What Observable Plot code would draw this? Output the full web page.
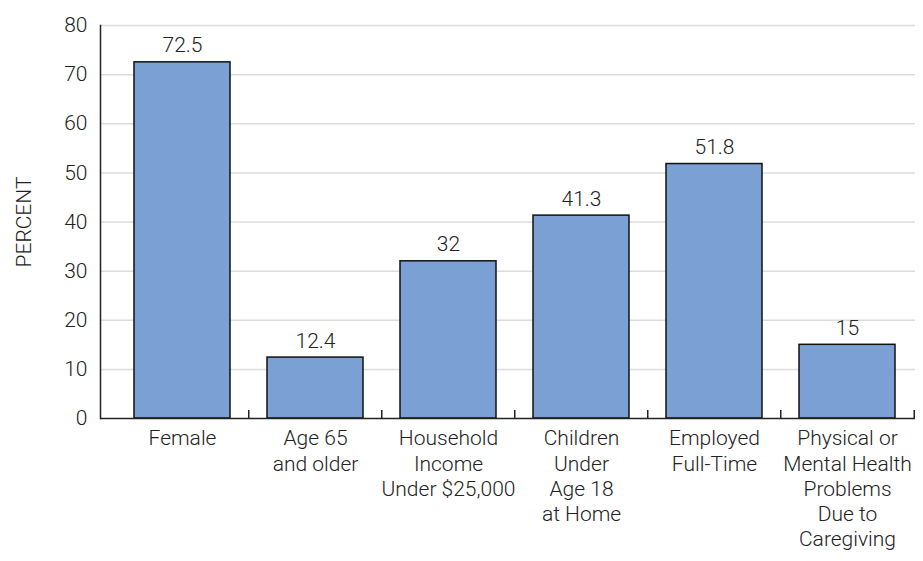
<!DOCTYPE html>
<html>
<head>
<meta charset="utf-8">
<script src="https://cdn.jsdelivr.net/npm/d3@7"></script>
<script src="https://cdn.jsdelivr.net/npm/@observablehq/plot@0.6"></script>
<style>
  html, body { margin: 0; padding: 0; background: #fff; }
</style>
</head>
<body>
<div id="chart"></div>
<script>
const categories = [
  "Female",
  "Age 65\nand older",
  "Household\nIncome\nUnder $25,000",
  "Children\nUnder\nAge 18\nat Home",
  "Employed\nFull-Time",
  "Physical or\nMental Health\nProblems\nDue to\nCaregiving"
];
const values = [72.5, 12.4, 32, 41.3, 51.8, 15];
const yTicks = [0, 10, 20, 30, 40, 50, 60, 70, 80];

const data = categories.map((c, i) => ({category: c, value: values[i]}));
const W = 923, H = 561, mL = 114, mR = 8, mT = 25, mB = 143;
const halfStep = (W - mL - mR) / categories.length / 2;

const chart = Plot.plot({
  width: W, height: H,
  marginLeft: mL, marginRight: mR, marginTop: mT, marginBottom: mB,
  style: {fontFamily: "Roboto, 'Open Sans', sans-serif", fontSize: "21px", color: "#222", background: "#fff", fontWeight: 300},
  x: {domain: categories, paddingInner: 0.28, paddingOuter: 0.14, label: null},
  y: {domain: [0, 80], label: null},
  marks: [
    Plot.ruleY(yTicks.filter(d => d > 0), {stroke: "#dcdcdc", strokeWidth: 1.5, insetLeft: -14}),
    Plot.barY(data, {x: "category", y: "value", fill: "#7ba0d3", stroke: "#111", strokeWidth: 1.5}),
    Plot.text(data, {x: "category", y: "value", text: d => String(d.value), dy: -10, lineAnchor: "bottom", fontSize: 21, fill: "#222"}),
    Plot.ruleY([0], {stroke: "#222", strokeWidth: 1.5, insetLeft: -14}),
    Plot.frame({anchor: "left", dx: -14, stroke: "#222", strokeWidth: 1.5}),
    Plot.ruleX(categories.slice(1), {x: d => d, dx: -halfStep, insetTop: H - mT - mB - 8, stroke: "#222", strokeWidth: 1.5}),
    Plot.ruleX(categories.slice(-1), {x: d => d, dx: halfStep, insetTop: H - mT - mB - 8, stroke: "#222", strokeWidth: 1.5}),
    Plot.axisX({tickSize: 0, tickPadding: 9, lineHeight: 1.2, fontSize: 21, label: null}),
    Plot.axisY({ticks: yTicks, tickSize: 0, tickPadding: 27, fontSize: 21, label: "PERCENT", labelAnchor: "center", labelArrow: "none", labelOffset: 98})
  ]
});
document.getElementById("chart").appendChild(chart);
</script>
</body>
</html>
